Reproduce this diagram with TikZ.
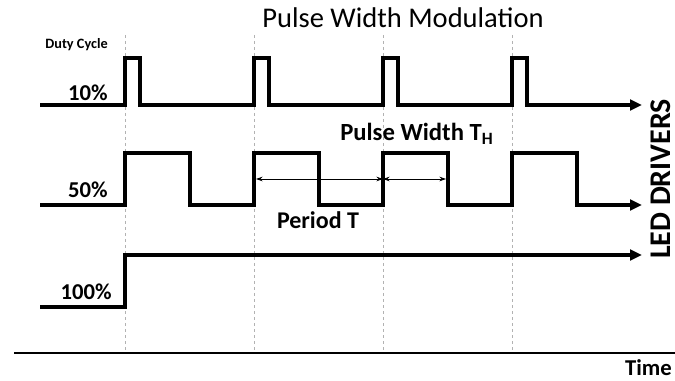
\documentclass[tikz,border=0pt]{standalone}
\usepackage{fontspec}
\setmainfont{Carlito}
\usetikzlibrary{arrows.meta,positioning}
\tikzset{
  wave/.style={line width=2.4pt, line join=miter, -{Triangle[length=9pt,width=8pt]}},
  guide/.style={gray!60, line width=0.75pt, dash pattern=on 2.5pt off 2pt},
  span/.style={line width=0.6pt, {Stealth[length=5pt,width=3.5pt]}-{Stealth[length=5pt,width=3.5pt]}},
  lbl/.style={font=\bfseries\fontsize{17}{17}\selectfont, inner sep=0pt}
}
\begin{document}
\begin{tikzpicture}[x=0.75pt,y=-0.75pt]
  \useasboundingbox (0,0) rectangle (675,381);

  \node (title) [inner sep=0pt, font=\fontsize{21.4}{21.4}\selectfont] at (403,18) {Pulse Width Modulation};
  \node (duty) [inner sep=0pt, anchor=east, font=\bfseries\fontsize{10.7}{10.7}\selectfont] at (108,45) {Duty Cycle};

  % guides
  \foreach \x in {125,254,383,512}
    \draw [guide] (\x,35) -- (\x,352);

  % waveforms
  \draw [wave] (40,105) foreach \x in {125,254,383,512} {-- (\x,105) -- (\x,58) -- (\x+15,58) -- (\x+15,105)} -- (642,105);
  \draw [wave] (40,205) foreach \x in {125,254,383,512} {-- (\x,205) -- (\x,153) -- (\x+65,153) -- (\x+65,205)} -- (642,205);
  \draw [wave] (40,307) -- (125,307) -- (125,255) -- (642,255);

  \node (ten) [lbl, anchor=east] at (108,93) {10\%};
  \node (fifty) [lbl, anchor=east] at (108,190) {50\%};
  \node (hundred) [lbl, anchor=east] at (112,292) {100\%};

  % period and pulse width
  \coordinate (p1) at (256,179);
  \coordinate (p2) at (383,179);
  \coordinate (p3) at (446,179);
  \draw [span] (p1) -- (p2);
  \draw [span] (p2) -- (p3);
  \node (width) [inner sep=0pt, anchor=west, font=\bfseries\fontsize{18.5}{18.5}\selectfont] at (340,134) {Pulse Width T\textsubscript{H}};
  \node (period) [inner sep=0pt, font=\bfseries\fontsize{18}{18}\selectfont] at (318,220) {Period T};

  \node (led) [inner sep=0pt, rotate=90, anchor=base, font=\bfseries\fontsize{22.5}{22.5}\selectfont] at (670,179) {LED DRIVERS};

  % time axis
  \coordinate (t0) at (14,353);
  \coordinate (t1) at (675,353);
  \draw [line width=1.6pt] (t0) -- (t1);
  \node (time) [lbl, anchor=east] at (672,368) {Time};
\end{tikzpicture}
\end{document}
